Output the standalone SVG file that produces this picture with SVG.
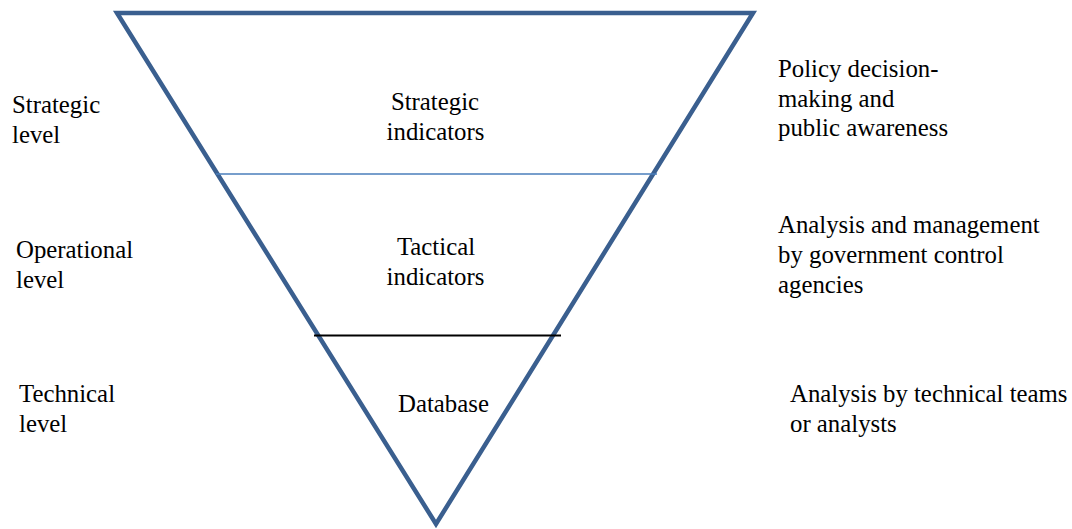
<svg xmlns="http://www.w3.org/2000/svg" width="1072" height="529" viewBox="0 0 1072 529">
<style>
text{font-family:"Liberation Serif","Times New Roman",serif;font-size:24.8px;fill:#000}
.c{text-anchor:middle}
</style>
<rect width="1072" height="529" fill="#fff"/>
<g id="pyramid">
<polygon points="117,13 753,13 436,524" fill="none" stroke="#3A5F8F" stroke-width="4.5" stroke-linejoin="miter"/>
</g>
<g id="connectors">
<line x1="216" y1="174" x2="657" y2="174" stroke="#4A7EBB" stroke-width="1.6"/>
<line x1="314" y1="335.5" x2="561" y2="335.5" stroke="#000" stroke-width="2"/>
</g>
<g id="strategic-level"><text x="12" y="113">Strategic</text><text x="12" y="143">level</text></g>
<g id="operational-level"><text x="16" y="258">Operational</text><text x="16" y="288">level</text></g>
<g id="technical-level"><text x="19" y="402">Technical</text><text x="19" y="432">level</text></g>
<g id="strategic-indicators"><text class="c" x="435" y="110">Strategic</text><text class="c" x="435.5" y="140">indicators</text></g>
<g id="tactical-indicators"><text class="c" x="436" y="255">Tactical</text><text class="c" x="435.5" y="285">indicators</text></g>
<g id="database"><text class="c" x="443.5" y="412">Database</text></g>
<g id="policy"><text x="778" y="77">Policy decision-</text><text x="778" y="106.5">making and</text><text x="778" y="136">public awareness</text></g>
<g id="analysis-management"><text x="778" y="233">Analysis and management</text><text x="778" y="263">by government control</text><text x="778" y="293">agencies</text></g>
<g id="analysis-technical"><text x="790" y="402">Analysis by technical teams</text><text x="790" y="432">or analysts</text></g>
</svg>
